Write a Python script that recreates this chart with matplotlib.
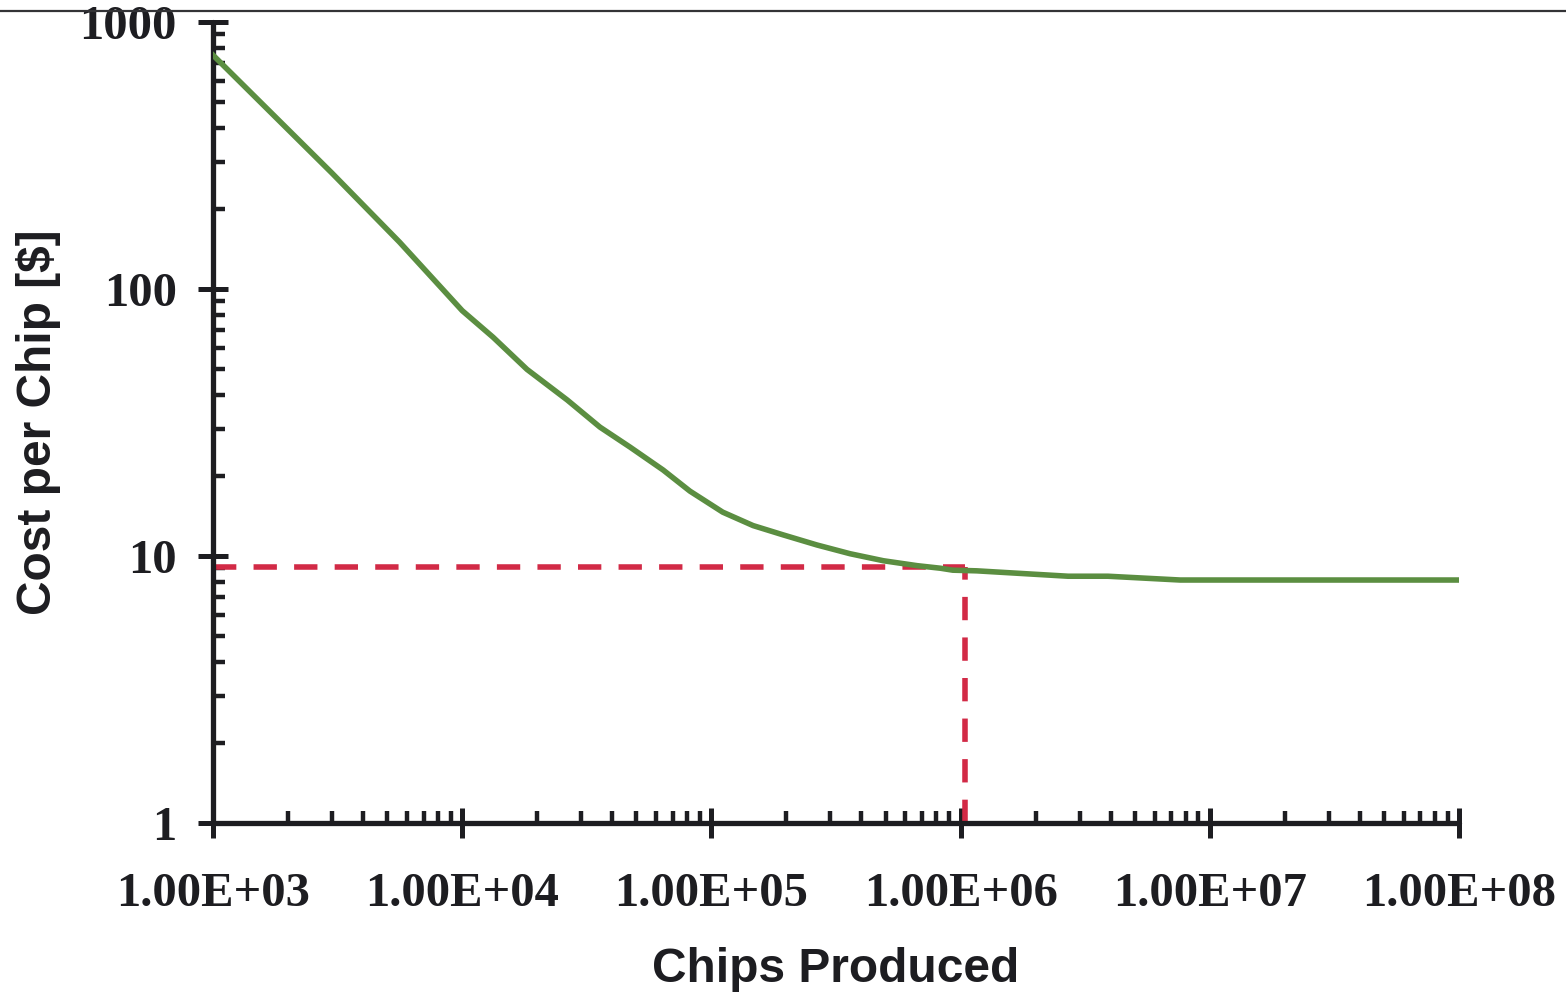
import numpy as np
import matplotlib.pyplot as plt
from matplotlib.lines import Line2D
from matplotlib.ticker import FixedLocator, FixedFormatter, LogLocator, NullFormatter

# values
chips = [1.0e3, 3.0e3, 5.6e3, 1.0e4, 1.33e4, 1.82e4, 2.64e4, 3.57e4, 4.71e4,
         6.4e4, 8.2e4, 1.11e5, 1.47e5, 1.94e5, 2.65e5, 3.6e5, 4.9e5, 6.7e5,
         8.3e5, 9.3e5, 1.16e6, 2.7e6, 3.9e6, 7.6e6, 1.0e8]
cost = [752, 272, 150, 83, 66, 50, 38.4, 30.4, 25.6,
        21.0, 17.5, 14.6, 13.0, 12.0, 11.0, 10.2, 9.6, 9.2,
        9.0, 8.85, 8.8, 8.4, 8.4, 8.13, 8.13]

marker_chips = 1.04e6
marker_cost = 9.1

x_ticks = [1e3, 1e4, 1e5, 1e6, 1e7, 1e8]
x_tick_labels = ['1.00E+03', '1.00E+04', '1.00E+05', '1.00E+06', '1.00E+07', '1.00E+08']
y_ticks = [1, 10, 100, 1000]
y_tick_labels = ['1', '10', '100', '1000']

ink = '#1d1d21'
green = '#5b8e41'
red = '#d22a46'

fig = plt.figure(figsize=(15.66, 9.93), dpi=100)
ax = fig.add_axes([0.136, 0.1712, 0.7957, 0.8066])

ax.plot(chips, cost, color=green, lw=4, solid_joinstyle='round', zorder=3)
ax.plot([1e3, marker_chips], [marker_cost, marker_cost], color=red, lw=4,
        dashes=(4.2, 3.1), zorder=2)
ax.plot([marker_chips, marker_chips], [1, marker_cost], color=red, lw=4,
        dashes=(4.2, 3.1), zorder=2)

ax.set_xscale('log')
ax.set_yscale('log')
ax.set_xlim(1e3, 1e8)
ax.set_ylim(1, 1000)

ax.xaxis.set_major_locator(FixedLocator(x_ticks))
ax.xaxis.set_major_formatter(FixedFormatter(x_tick_labels))
ax.yaxis.set_major_locator(FixedLocator(y_ticks))
ax.yaxis.set_major_formatter(FixedFormatter(y_tick_labels))
ax.xaxis.set_minor_locator(LogLocator(base=10, subs=np.arange(2, 10)))
ax.yaxis.set_minor_locator(LogLocator(base=10, subs=np.arange(2, 10)))
ax.xaxis.set_minor_formatter(NullFormatter())
ax.yaxis.set_minor_formatter(NullFormatter())

for s in ['top', 'right']:
    ax.spines[s].set_visible(False)
for s in ['left', 'bottom']:
    ax.spines[s].set_linewidth(3.8)
    ax.spines[s].set_color(ink)
    ax.spines[s].set_capstyle('round')

ax.tick_params(which='major', direction='inout', length=22, width=3.6, color=ink)
ax.tick_params(which='minor', direction='in', length=8.5, width=3.2, color=ink)
ax.tick_params(axis='x', which='major', pad=24)
ax.tick_params(axis='y', which='major', pad=15)
for lab in ax.get_xticklabels() + ax.get_yticklabels():
    lab.set_fontfamily('Liberation Serif')
    lab.set_fontweight('bold')
    lab.set_fontsize(35)
    lab.set_color(ink)
for t in ax.xaxis.get_major_ticks() + ax.yaxis.get_major_ticks() + \
        ax.xaxis.get_minor_ticks() + ax.yaxis.get_minor_ticks():
    t.tick1line.set_solid_capstyle('round')

label_font = {'family': 'Liberation Sans', 'weight': 'bold', 'size': 34.5, 'color': ink}
ax.set_xlabel('Chips Produced', **label_font)
ax.set_ylabel('Cost per Chip [$]', **label_font)
ax.xaxis.set_label_coords(0.5, -0.155)
ax.yaxis.set_label_coords(-0.1404, 0.5)
ax.yaxis.label.set_va('center')

# thin rule across the top of the page
fig.add_artist(Line2D([0, 1], [0.989, 0.989], transform=fig.transFigure,
                      color='#333336', lw=1.6))

fig.savefig('out.png', dpi=100)
